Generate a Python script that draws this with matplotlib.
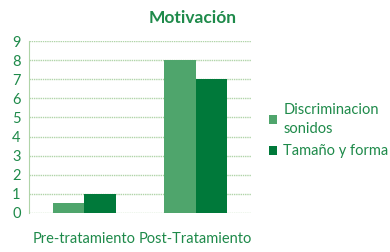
import numpy as np
import matplotlib
matplotlib.use('Agg')
import matplotlib.pyplot as plt

categories = ['Pre-tratamiento', 'Post-Tratamiento']
series_names = ['Discriminacion\nsonidos', 'Tamaño y forma']
discriminacion = [0.5, 8]
tamano = [1, 7]

plt.rcParams['font.family'] = ['Lato', 'DejaVu Sans']
txt = '#1e8a4a'
grid_c = '#b0d4a8'

fig = plt.figure(figsize=(3.9, 2.52), dpi=100)
ax = fig.add_axes([0.074, 0.155, 0.57, 0.682])

x = np.arange(len(categories))
w = 0.284
ax.bar(x - w / 2, discriminacion, w, color='#4fa56c', label=series_names[0], zorder=3)
ax.bar(x + w / 2, tamano, w, color='#00793a', label=series_names[1], zorder=3)

ax.set_xlim(-0.5, 1.5)
ax.set_ylim(0, 9)
ax.set_yticks(range(0, 10))
ax.yaxis.grid(True, color=grid_c, linestyle=(0, (1, 0.6)), linewidth=1, zorder=0)
ax.set_xticks(x)
ax.set_xticklabels(categories)
ax.tick_params(axis='both', length=0, labelsize=10.5, labelcolor=txt)
ax.tick_params(axis='x', pad=14)
ax.tick_params(axis='y', pad=6)
for s in ['top', 'right', 'bottom']:
    ax.spines[s].set_visible(False)
ax.spines['left'].set_color(grid_c)

fig.text(0.495, 0.93, 'Motivación', ha='center', va='center', fontsize=12.5,
         fontweight='bold', color=txt)
leg = ax.legend(loc='center left', bbox_to_anchor=(1.02, 0.48), frameon=False,
                fontsize=10.5, handlelength=0.6, handleheight=0.6, handletextpad=0.4,
                labelspacing=0.6)
for t in leg.get_texts():
    t.set_color(txt)
    t.set_linespacing(1.45)

fig.savefig('out.png', dpi=100)
